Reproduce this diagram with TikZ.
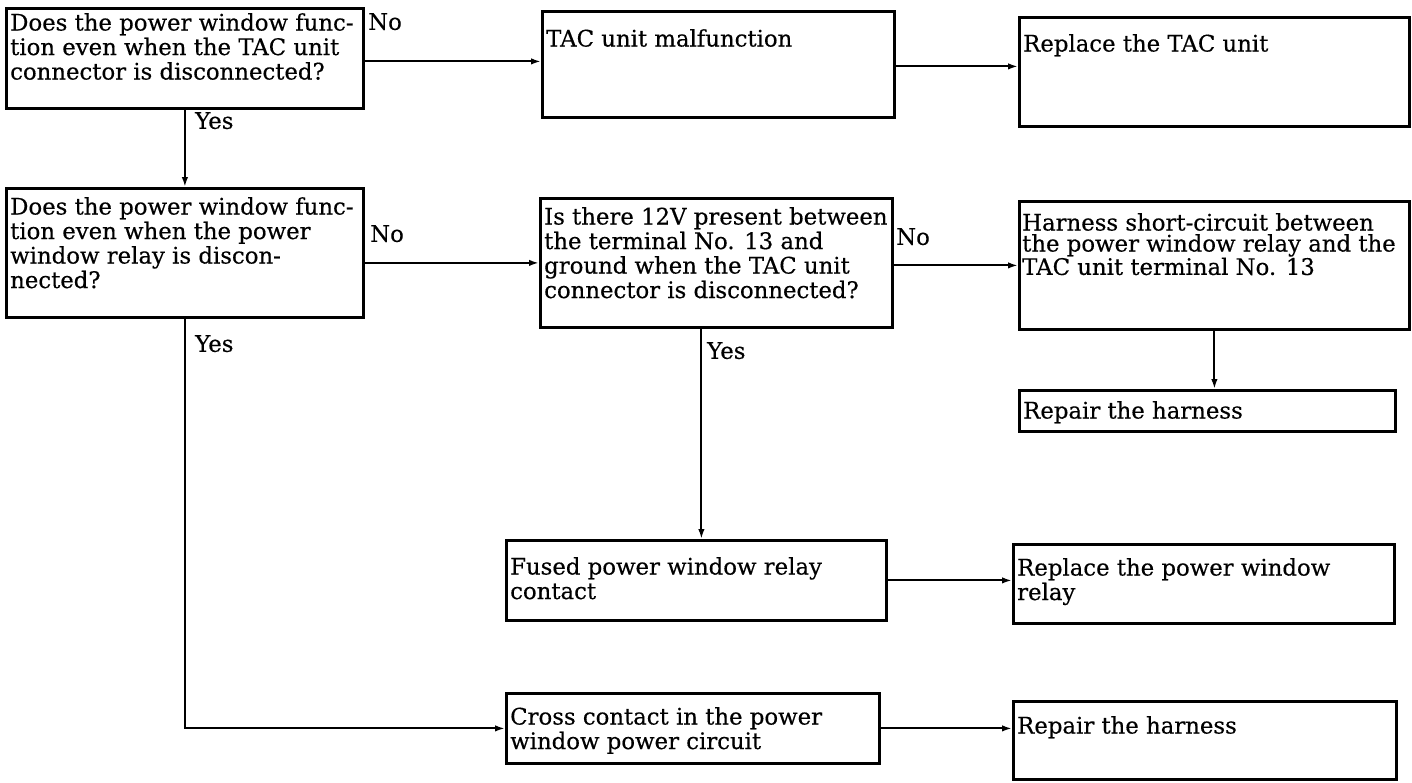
\documentclass[tikz,border=0pt]{standalone}
\usepackage{fontspec}
\setmainfont[FakeBold=0.4]{DejaVu Serif}
\usetikzlibrary{arrows.meta}
\begin{document}
\begin{tikzpicture}[x=1pt,y=-1pt,
  fbox/.style={draw=black,line width=2.8pt,anchor=north west,inner sep=0pt},
  ftxt/.style={anchor=north west,align=left,inner sep=0pt,
    font=\fontsize{22.8}{24.5}\selectfont},
  inset/.style={xshift=5pt,yshift=-#1},
  flow/.style={line width=2.1pt,-{Latex[length=10pt,width=6.5pt]}},
  lbl/.style={anchor=north west,inner sep=0pt,font=\fontsize{22.8}{24.5}\selectfont}]
\useasboundingbox (0,0) rectangle (1412,782);

% boxes
\node[fbox,minimum width=357pt,minimum height=100pt] (q1) at (5,7) {};
\node[fbox,minimum width=352pt,minimum height=106pt] (tac) at (541,10) {};
\node[fbox,minimum width=390pt,minimum height=109pt] (rtac) at (1018,16) {};
\node[fbox,minimum width=357pt,minimum height=129pt] (q2) at (5,187) {};
\node[fbox,minimum width=352pt,minimum height=129pt] (q3) at (539,197) {};
\node[fbox,minimum width=390pt,minimum height=128pt] (hsc) at (1018,200) {};
\node[fbox,minimum width=376pt,minimum height=41pt] (rh1) at (1018,389) {};
\node[fbox,minimum width=380pt,minimum height=80pt] (fused) at (505,539) {};
\node[fbox,minimum width=381pt,minimum height=79pt] (rrel) at (1012,543) {};
\node[fbox,minimum width=373pt,minimum height=70pt] (cross) at (505,692) {};
\node[fbox,minimum width=383pt,minimum height=78pt] (rh2) at (1012,700) {};

% box texts
\node[ftxt] (q1t) at ([inset=6pt]q1.north west)
  {Does the power window func-\\tion even when the TAC unit\\connector is disconnected?};
\node[ftxt] (tact) at ([inset=19pt]tac.north west) {TAC unit malfunction};
\node[ftxt] (rtact) at ([inset=18pt]rtac.north west) {Replace the TAC unit};
\node[ftxt] (q2t) at ([inset=10pt]q2.north west)
  {Does the power window func-\\tion even when the power\\window relay is discon-\\nected?};
\node[ftxt] (q3t) at ([inset=10pt]q3.north west)
  {Is there 12V present between\\the terminal No. 13 and\\ground when the TAC unit\\connector is disconnected?};
\node[ftxt,font=\fontsize{22.8}{21}\selectfont] (hsct) at ([xshift=-1pt,inset=13pt]hsc.north west)
  {Harness short-circuit between\\the power window relay and the\\TAC unit terminal No. 13};
\node[ftxt] (rh1t) at ([inset=12pt]rh1.north west) {Repair the harness};
\node[ftxt] (fusedt) at ([inset=18pt]fused.north west) {Fused power window relay\\contact};
\node[ftxt] (rrelt) at ([inset=15pt]rrel.north west) {Replace the power window\\relay};
\node[ftxt] (crosst) at ([inset=15pt]cross.north west) {Cross contact in the power\\window power circuit};
\node[ftxt] (rh2t) at ([inset=16pt]rh2.north west) {Repair the harness};

% connectors
\draw[flow] ([yshift=-3pt]q1.east) -- ([yshift=-3pt]q1.east -| tac.west);
\draw[flow] ([yshift=-2pt]tac.east) -- ([yshift=-2pt]tac.east -| rtac.west);
\draw[flow] (q1.south) -- (q2.north);
\draw[flow] (q3.west -| q2.east) -- (q3.west);
\draw[flow] (hsc.west -| q3.east) -- (hsc.west);
\draw[flow] (hsc.south) -- (hsc.south |- rh1.north);
\draw[flow] ([xshift=-15pt]q3.south) -- ([xshift=-15pt]q3.south |- fused.north);
\draw[flow] (fused.east) -- (fused.east -| rrel.west);
\draw[flow] (q2.south) |- (cross.west);
\draw[flow] (cross.east) -- (cross.east -| rh2.west);

% branch labels
\node[lbl] (no1) at (368,13) {No};
\node[lbl] (yes1) at (195,112) {Yes};
\node[lbl] (no2) at (370,225) {No};
\node[lbl] (yes2) at (195,335) {Yes};
\node[lbl] (no3) at (896,228) {No};
\node[lbl] (yes3) at (707,342) {Yes};
\end{tikzpicture}
\end{document}
